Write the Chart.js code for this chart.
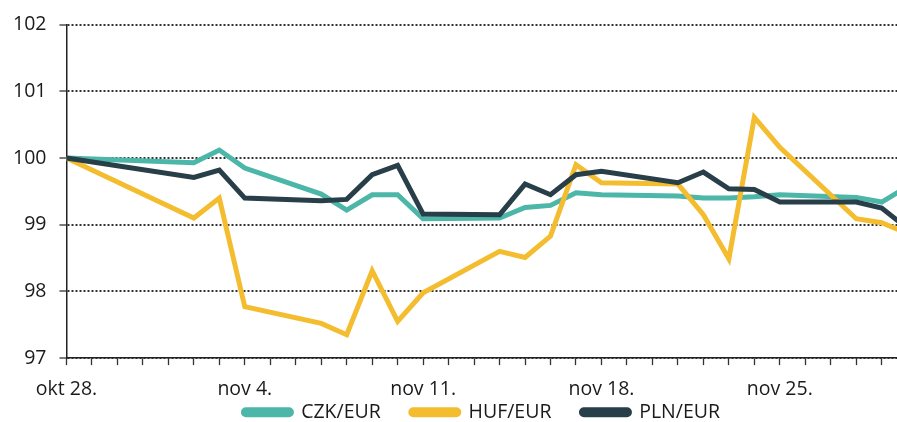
<!DOCTYPE html>
<html>
<head>
<meta charset="utf-8">
<script src="https://cdn.jsdelivr.net/npm/chart.js@4.4.1/dist/chart.umd.min.js"></script>
<style>
    html, body { margin: 0; padding: 0; background: #ffffff; }
    #wrap { width: 897px; height: 422px; }
</style>
</head>
<body>
<div id="wrap"><canvas id="fx-chart"></canvas></div>
<script>
// Days counted from okt 28. (day 0)
const days = [0, 5, 6, 7, 10, 11, 12, 13, 14, 17, 18, 19, 20, 21, 24, 25, 26, 27, 28, 31, 32, 33];

const czk = [100, 99.93, 100.12, 99.85, 99.46, 99.22, 99.45, 99.45, 99.09, 99.10, 99.26,
    99.29, 99.48, 99.45, 99.43, 99.40, 99.40, 99.42, 99.45, 99.41, 99.34, 99.57];
const huf = [100, 99.10, 99.40, 97.77, 97.52, 97.35, 98.31, 97.55, 97.98, 98.60, 98.51,
    98.83, 99.90, 99.63, 99.61, 99.15, 98.49, 100.61, 100.16, 99.09, 99.03, 98.87];
const pln = [100, 99.71, 99.82, 99.40, 99.36, 99.38, 99.75, 99.89, 99.16, 99.15, 99.61,
    99.45, 99.75, 99.80, 99.63, 99.79, 99.54, 99.53, 99.34, 99.34, 99.25, 98.95];

// x tick labels (every week)
const labelDays = [0, 7, 14, 21, 28];
const labelTexts = ['okt 28.', 'nov 4.', 'nov 11.', 'nov 18.', 'nov 25.'];

const seriesNames = ['CZK/EUR', 'HUF/EUR', 'PLN/EUR'];
const seriesColors = ['#4cb6a9', '#f3bd2f', '#283e48'];

const FONT = '"Open Sans", "Noto Sans", sans-serif';
const LEGEND_GAP = 30;  // space between legend items
const LEGEND_CUT = 26;  // taken off the legend height (top and bottom)
const LEGEND_LIFT = 42; // how far the legend row is drawn higher

function points(values) {
    return days.map((d, i) => ({ x: d, y: values[i] }));
}

// legend padding is used both between items and above them; keep the wide gap
// between items but pull the row up closer to the axis labels
const legendSqueeze = {
    id: 'legendSqueeze',
    beforeLayout(chart) {
        const lg = chart.legend;
        if (!lg || lg._squeezed) return;
        const fit = lg.fit.bind(lg);
        const draw = lg.draw.bind(lg);
        lg.fit = function () {
            fit();
            this.height -= 2 * LEGEND_CUT;
        };
        lg.draw = function (area) {
            this.top -= LEGEND_LIFT;
            draw(area);
            this.top += LEGEND_LIFT;
        };
        lg._squeezed = true;
    }
};

const datasets = [czk, huf, pln].map((values, i) => ({
    label: seriesNames[i],
    data: points(values),
    borderColor: seriesColors[i],
    backgroundColor: seriesColors[i],
    borderWidth: 5,
    pointRadius: 0,
    tension: 0,
    order: 2 - i // PLN drawn on top, then HUF, then CZK
}));

new Chart(document.getElementById('fx-chart'), {
    type: 'line',
    data: { datasets },
    plugins: [legendSqueeze],
    options: {
        responsive: true,
        maintainAspectRatio: false,
        animation: false,
        layout: { padding: { top: 14, right: 0, left: 0, bottom: 0 } },
        scales: {
            x: {
                type: 'linear',
                min: 0,
                max: 32.6,
                grid: {
                    drawOnChartArea: false,
                    drawTicks: true,
                    tickLength: 7,
                    tickColor: '#333333',
                    tickWidth: 1.3
                },
                border: { display: true, color: '#222222', width: 1.5 },
                ticks: {
                    stepSize: 1,
                    includeBounds: false,
                    autoSkip: false,
                    maxRotation: 0,
                    padding: 13,
                    color: '#1a1a1a',
                    font: { family: FONT, size: 19.5 },
                    callback: (v) => {
                        const k = labelDays.indexOf(v);
                        return k >= 0 ? labelTexts[k] : '';
                    }
                }
            },
            y: {
                min: 97,
                max: 102,
                grid: {
                    color: '#333333',
                    lineWidth: 2,
                    drawTicks: true,
                    tickLength: 7,
                    tickColor: '#333333',
                    tickWidth: 1.3
                },
                border: { display: true, color: '#222222', width: 1.5, dash: [2, 2] },
                ticks: {
                    stepSize: 1,
                    padding: 13,
                    color: '#1a1a1a',
                    font: { family: FONT, size: 19.5 }
                }
            }
        },
        plugins: {
            legend: {
                position: 'bottom',
                fullSize: false,
                labels: {
                    boxWidth: 48,
                    boxHeight: 5,
                    padding: LEGEND_GAP,
                    color: '#1a1a1a',
                    useBorderRadius: true,
                    borderRadius: 2.5,
                    font: { family: FONT, size: 19.5 },
                    sort: (a, b) => a.datasetIndex - b.datasetIndex
                }
            },
            tooltip: { enabled: false }
        }
    }
});
</script>
</body>
</html>
